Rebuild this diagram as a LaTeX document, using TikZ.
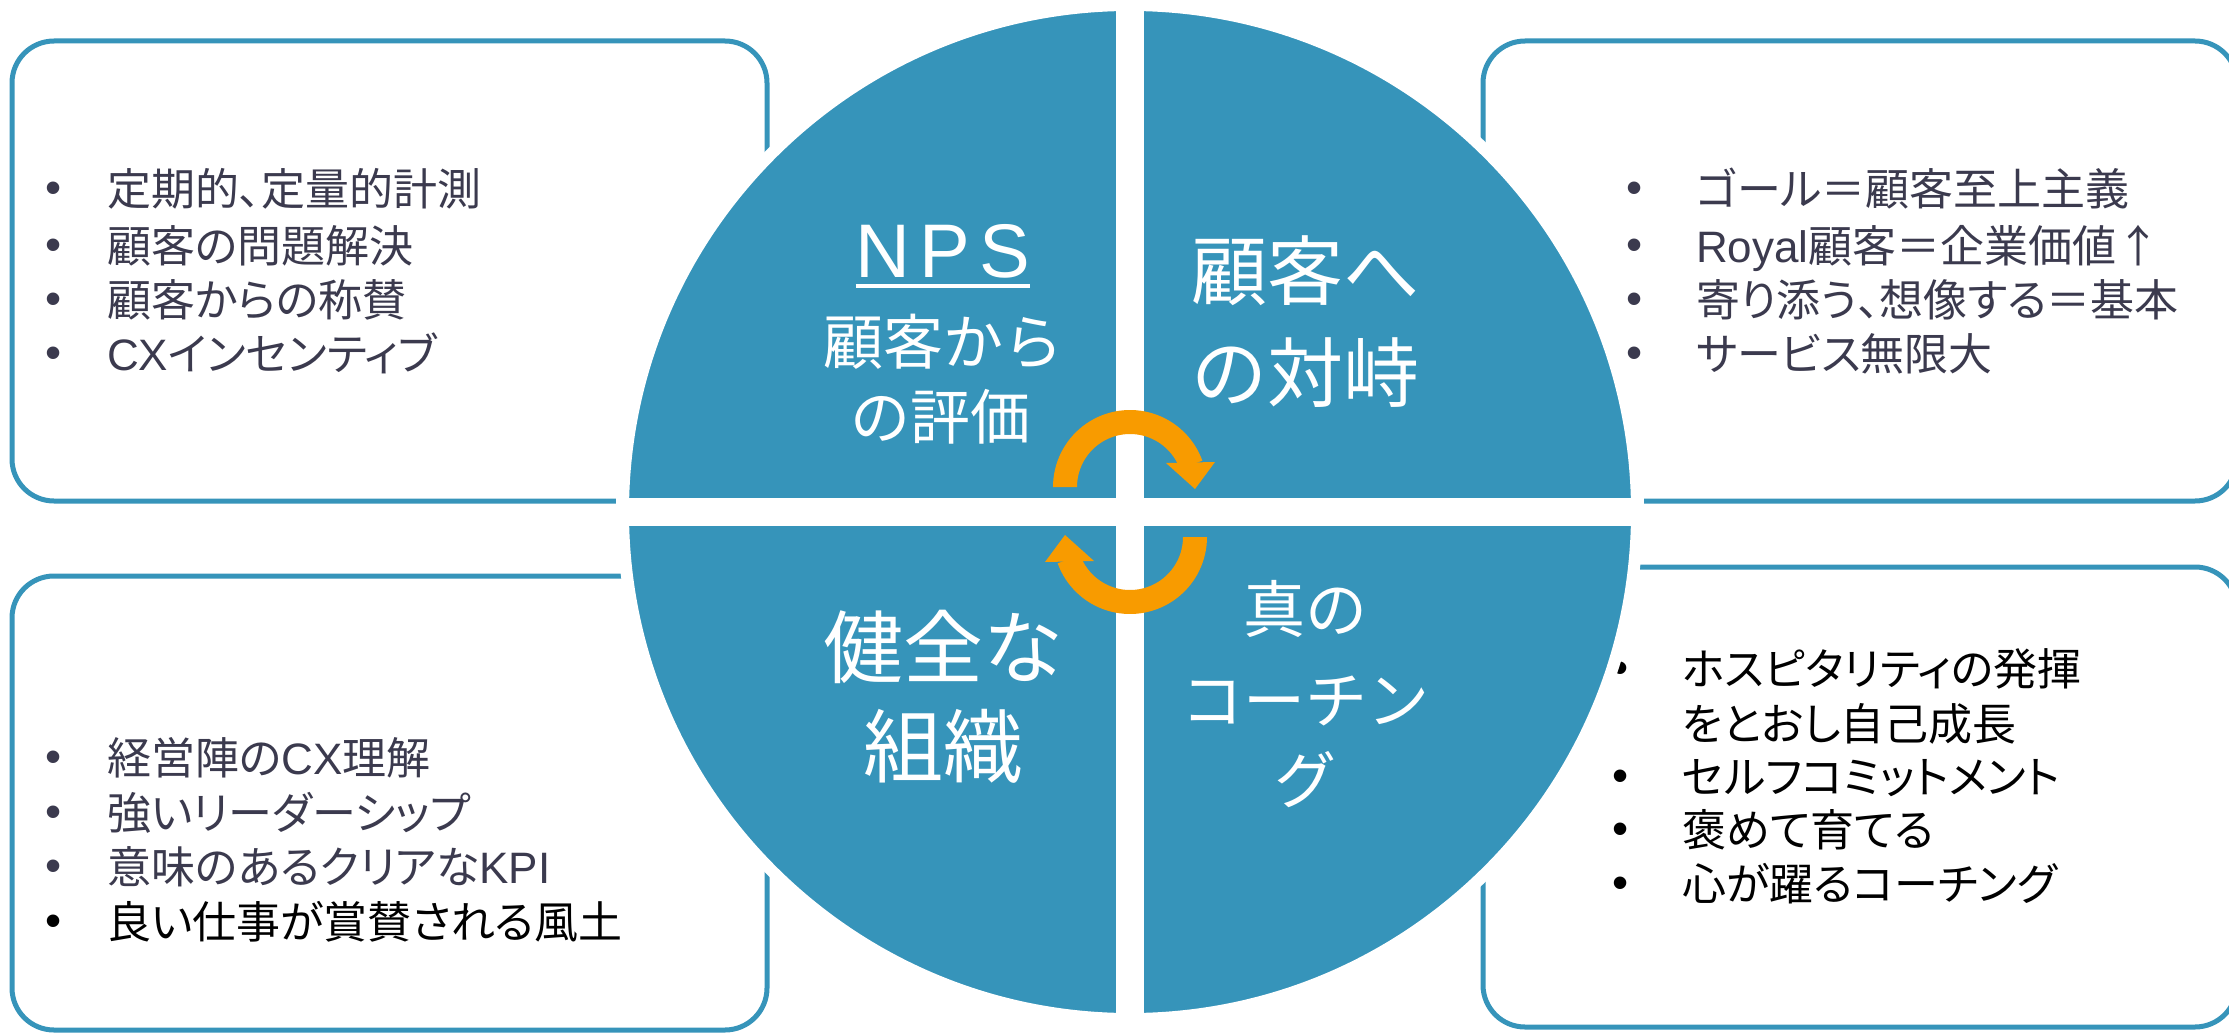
\documentclass[tikz,border=0pt]{standalone}
\usepackage{fontspec}
\setmainfont{Liberation Sans}
\newfontfamily\jp{Noto Sans CJK JP}
\newfontfamily\jpp[RawFeature=+palt]{Noto Sans CJK JP}
\newfontfamily\lat{Liberation Sans}
\newfontfamily\npsfont[LetterSpace=12]{Liberation Sans}
\definecolor{qblue}{HTML}{3694BA}
\definecolor{dk}{HTML}{3B3A4E}
\definecolor{arrorange}{HTML}{F89B00}
\begin{document}
\begin{tikzpicture}[x=1pt,y=-1pt,
  box/.style={draw=qblue, line width=5pt, fill=white, rounded corners=42pt},
  itm/.style={anchor=base west, inner sep=0pt, font=\jpp\fontsize{44}{50}\selectfont, text=dk},
  bul/.style={anchor=base, inner sep=0pt, font=\lat\fontsize{46}{50}\selectfont, text=dk},
  qtxt/.style={anchor=base, inner sep=0pt, text=white},
  arr/.style={fill=arrorange}
]
\useasboundingbox (0,0) rectangle (2229,1035);
% boxes
\draw[box] (12,41) rectangle (767,501);
\draw[box] (1483,41) rectangle (2237,501);
\draw[box] (12,576) rectangle (767,1030);
\draw[box] (1483,567) rectangle (2237,1027);

% TL items
\foreach \yy/\nm in {189/a1,245/a2,299/a3,353/a4} \node[bul] (b\nm) at (54,\yy+15) {•};
\node[itm] (ta1) at (107,206) {定期的、定量的計測};
\node[itm] (ta2) at (107,262) {顧客の問題解決};
\node[itm] (ta3) at (107,316) {顧客からの称賛};
\node[itm] (ta4) at (107,370) {{\lat CX}インセンティブ};

% TR items
\foreach \yy/\nm in {189/c1,245/c2,299/c3,353/c4} \node[bul] (b\nm) at (1635,\yy+15) {•};
\node[itm] (tc1) at (1696,206) {ゴール＝顧客至上主義};
\node[itm] (tc2) at (1696,262) {{\lat Royal}顧客＝企業価値↑};
\node[itm] (tc3) at (1696,316) {寄り添う、想像する＝基本};
\node[itm] (tc4) at (1696,370) {サービス無限大};

% BL items
\foreach \yy/\nm in {757/d1,812/d2,866/d3} \node[bul] (b\nm) at (54,\yy+15) {•};
\node[bul, text=black] (bd4) at (54,921+15) {•};
\node[itm] (td1) at (107,774) {経営陣の{\lat CX}理解};
\node[itm] (td2) at (107,829) {強いリーダーシップ};
\node[itm] (td3) at (107,883) {意味のあるクリアな{\lat KPI}};
\node[itm, text=black] (td4) at (107,938) {良い仕事が賞賛される風土};

% BR items
\foreach \yy/\nm in {668/e1,776/e3,829/e4,883/e5} \node[bul, text=black] (b\nm) at (1621,\yy+15) {•};
\node[itm, text=black] (te1) at (1682,685) {ホスピタリティの発揮};
\node[itm, text=black] (te2) at (1682,740) {をとおし自己成長};
\node[itm, text=black] (te3) at (1682,793) {セルフコミットメント};
\node[itm, text=black] (te4) at (1682,846) {褒めて育てる};
\node[itm, text=black] (te5) at (1682,900) {心が躍るコーチング};

% circle
\fill[qblue, draw=white, line width=12pt] (1130,512) circle[radius=507];
\draw[white, line width=28pt] (1130,0) -- (1130,1030);
\draw[white, line width=28pt] (616,512) -- (1644,512);

% quadrant texts
\node[qtxt, font=\npsfont\fontsize{76}{80}\selectfont] (nps) at (943,277) {NPS};
\draw[white, line width=4pt] ([yshift=-9pt]nps.base west) -- ([yshift=-9pt]nps.base east);
\node[qtxt, font=\jp\fontsize{60}{66}\selectfont] (q1a) at (943,364) {顧客から};
\node[qtxt, font=\jp\fontsize{60}{66}\selectfont] (q1b) at (940,439) {の評価};
\node[qtxt, font=\jp\fontsize{76}{80}\selectfont] (q2a) at (1305,299) {顧客へ};
\node[qtxt, font=\jp\fontsize{76}{80}\selectfont] (q2b) at (1305,401) {の対峙};
\node[qtxt, font=\jp\fontsize{80}{86}\selectfont] (q3a) at (943,677) {健全な};
\node[qtxt, font=\jp\fontsize{80}{86}\selectfont] (q3b) at (943,776) {組織};
\node[qtxt, font=\jp\fontsize{62}{68}\selectfont] (q4a) at (1305,632) {真の};
\node[qtxt, font=\jp\fontsize{62}{68}\selectfont] (q4b) at (1305,723) {コーチン};
\node[qtxt, font=\jp\fontsize{62}{68}\selectfont] (q4c) at (1305,803) {グ};

% cycle arrows
\fill[arr] plot[domain=180:340, samples=50] ({1130+77*cos(\x)},{487+77*sin(\x)})
  -- plot[domain=340:180, samples=50] ({1130+53*cos(\x)},{487+53*sin(\x)}) -- cycle;
\fill[arr] (1166,463) -- (1215,462) -- (1195,489) -- cycle;
\fill[arr] plot[domain=0:160, samples=50] ({1130+77*cos(\x)},{537+77*sin(\x)})
  -- plot[domain=160:0, samples=50] ({1130+53*cos(\x)},{537+53*sin(\x)}) -- cycle;
\fill[arr] (1094,561) -- (1045,562) -- (1065,535) -- cycle;
\end{tikzpicture}
\end{document}
